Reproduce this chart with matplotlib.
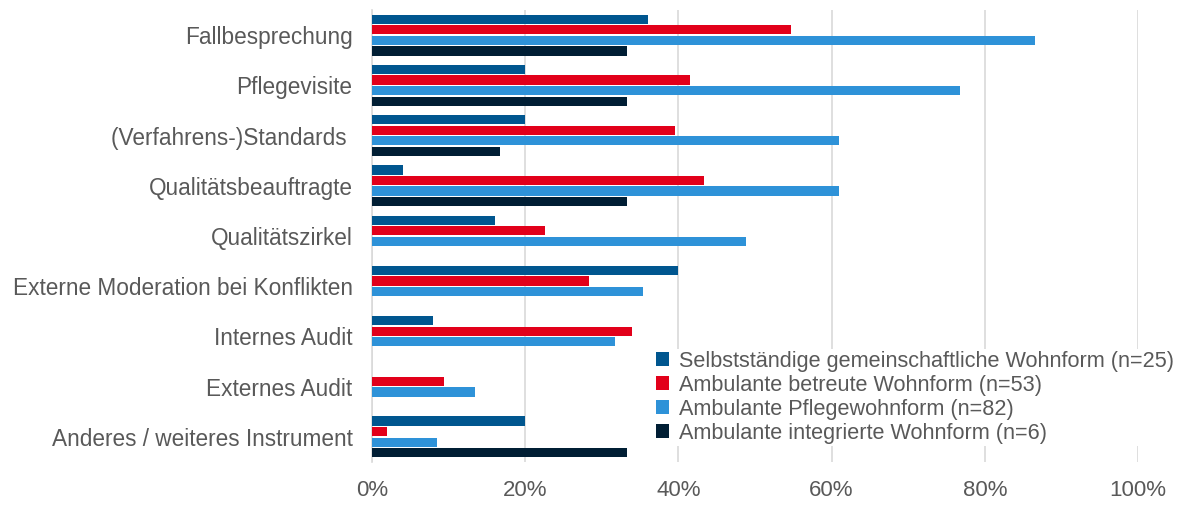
import matplotlib.pyplot as plt
import numpy as np

plt.rcParams['font.family'] = ['Liberation Sans', 'DejaVu Sans']

# Kategorien (von oben nach unten)
categories = ["Fallbesprechung", "Pflegevisite", "(Verfahrens-)Standards ",
              "Qualitätsbeauftragte", "Qualitätszirkel",
              "Externe Moderation bei Konflikten", "Internes Audit",
              "Externes Audit", "Anderes / weiteres Instrument"]

series_names = ["Selbstständige gemeinschaftliche Wohnform (n=25)",
                "Ambulante betreute Wohnform (n=53)",
                "Ambulante Pflegewohnform (n=82)",
                "Ambulante integrierte Wohnform (n=6)"]

# Anteile in Prozent
selbststaendig = [36.0, 20.0, 20.0, 4.0, 16.0, 40.0, 8.0, 0.0, 20.0]
betreut = [54.7, 41.5, 39.6, 43.4, 22.6, 28.3, 34.0, 9.4, 1.9]
pflege = [86.6, 76.8, 61.0, 61.0, 48.8, 35.4, 31.7, 13.4, 8.5]
integriert = [33.3, 33.3, 16.7, 33.3, 0.0, 0.0, 0.0, 0.0, 33.3]

colors = ["#00568F", "#E2001A", "#2E92D8", "#001E34"]

fig = plt.figure(figsize=(11.82, 5.05), dpi=100)
ax = fig.add_axes([372 / 1182, 1 - 462 / 505, 766 / 1182, 452 / 505])

y = np.arange(len(categories))
pitch = 0.21
height = 0.185
all_series = [selbststaendig, betreut, pflege, integriert]
for i, (vals, col, name) in enumerate(zip(all_series, colors, series_names)):
    offs = (i - 1.5) * pitch
    ax.barh(y + offs, vals, height=height, color=col, label=name, zorder=3)

ax.set_xlim(0, 100)
ax.set_ylim(8.5, -0.5)
ax.set_yticks(y)
ax.set_yticklabels(categories, fontsize=16.3, color="#595959")
ax.set_xticks(np.arange(0, 101, 20))
ax.set_xticklabels([f"{v}%" for v in range(0, 101, 20)], fontsize=16, color="#595959")
ax.tick_params(axis='both', length=0)
ax.tick_params(axis='y', pad=14)
ax.tick_params(axis='x', pad=13)

ax.grid(axis='x', color="#D9D9D9", linewidth=1.2, zorder=0)
for s in ["top", "right", "bottom"]:
    ax.spines[s].set_visible(False)
ax.spines["left"].set_color("#D9D9D9")
ax.spines["left"].set_linewidth(1.2)

leg = ax.legend(loc="lower right", bbox_to_anchor=(1176 / 1182, 1 - 446 / 505),
                bbox_transform=fig.transFigure, frameon=True,
                fontsize=15.6, handlelength=0.6, handleheight=0.6,
                handletextpad=0.45, labelspacing=0.14, borderpad=0.1,
                borderaxespad=0)
leg.get_frame().set_facecolor("white")
leg.get_frame().set_edgecolor("none")
leg.get_frame().set_alpha(1)
leg.set_zorder(5)
for t in leg.get_texts():
    t.set_color("#595959")

fig.savefig("out.png", dpi=100)
